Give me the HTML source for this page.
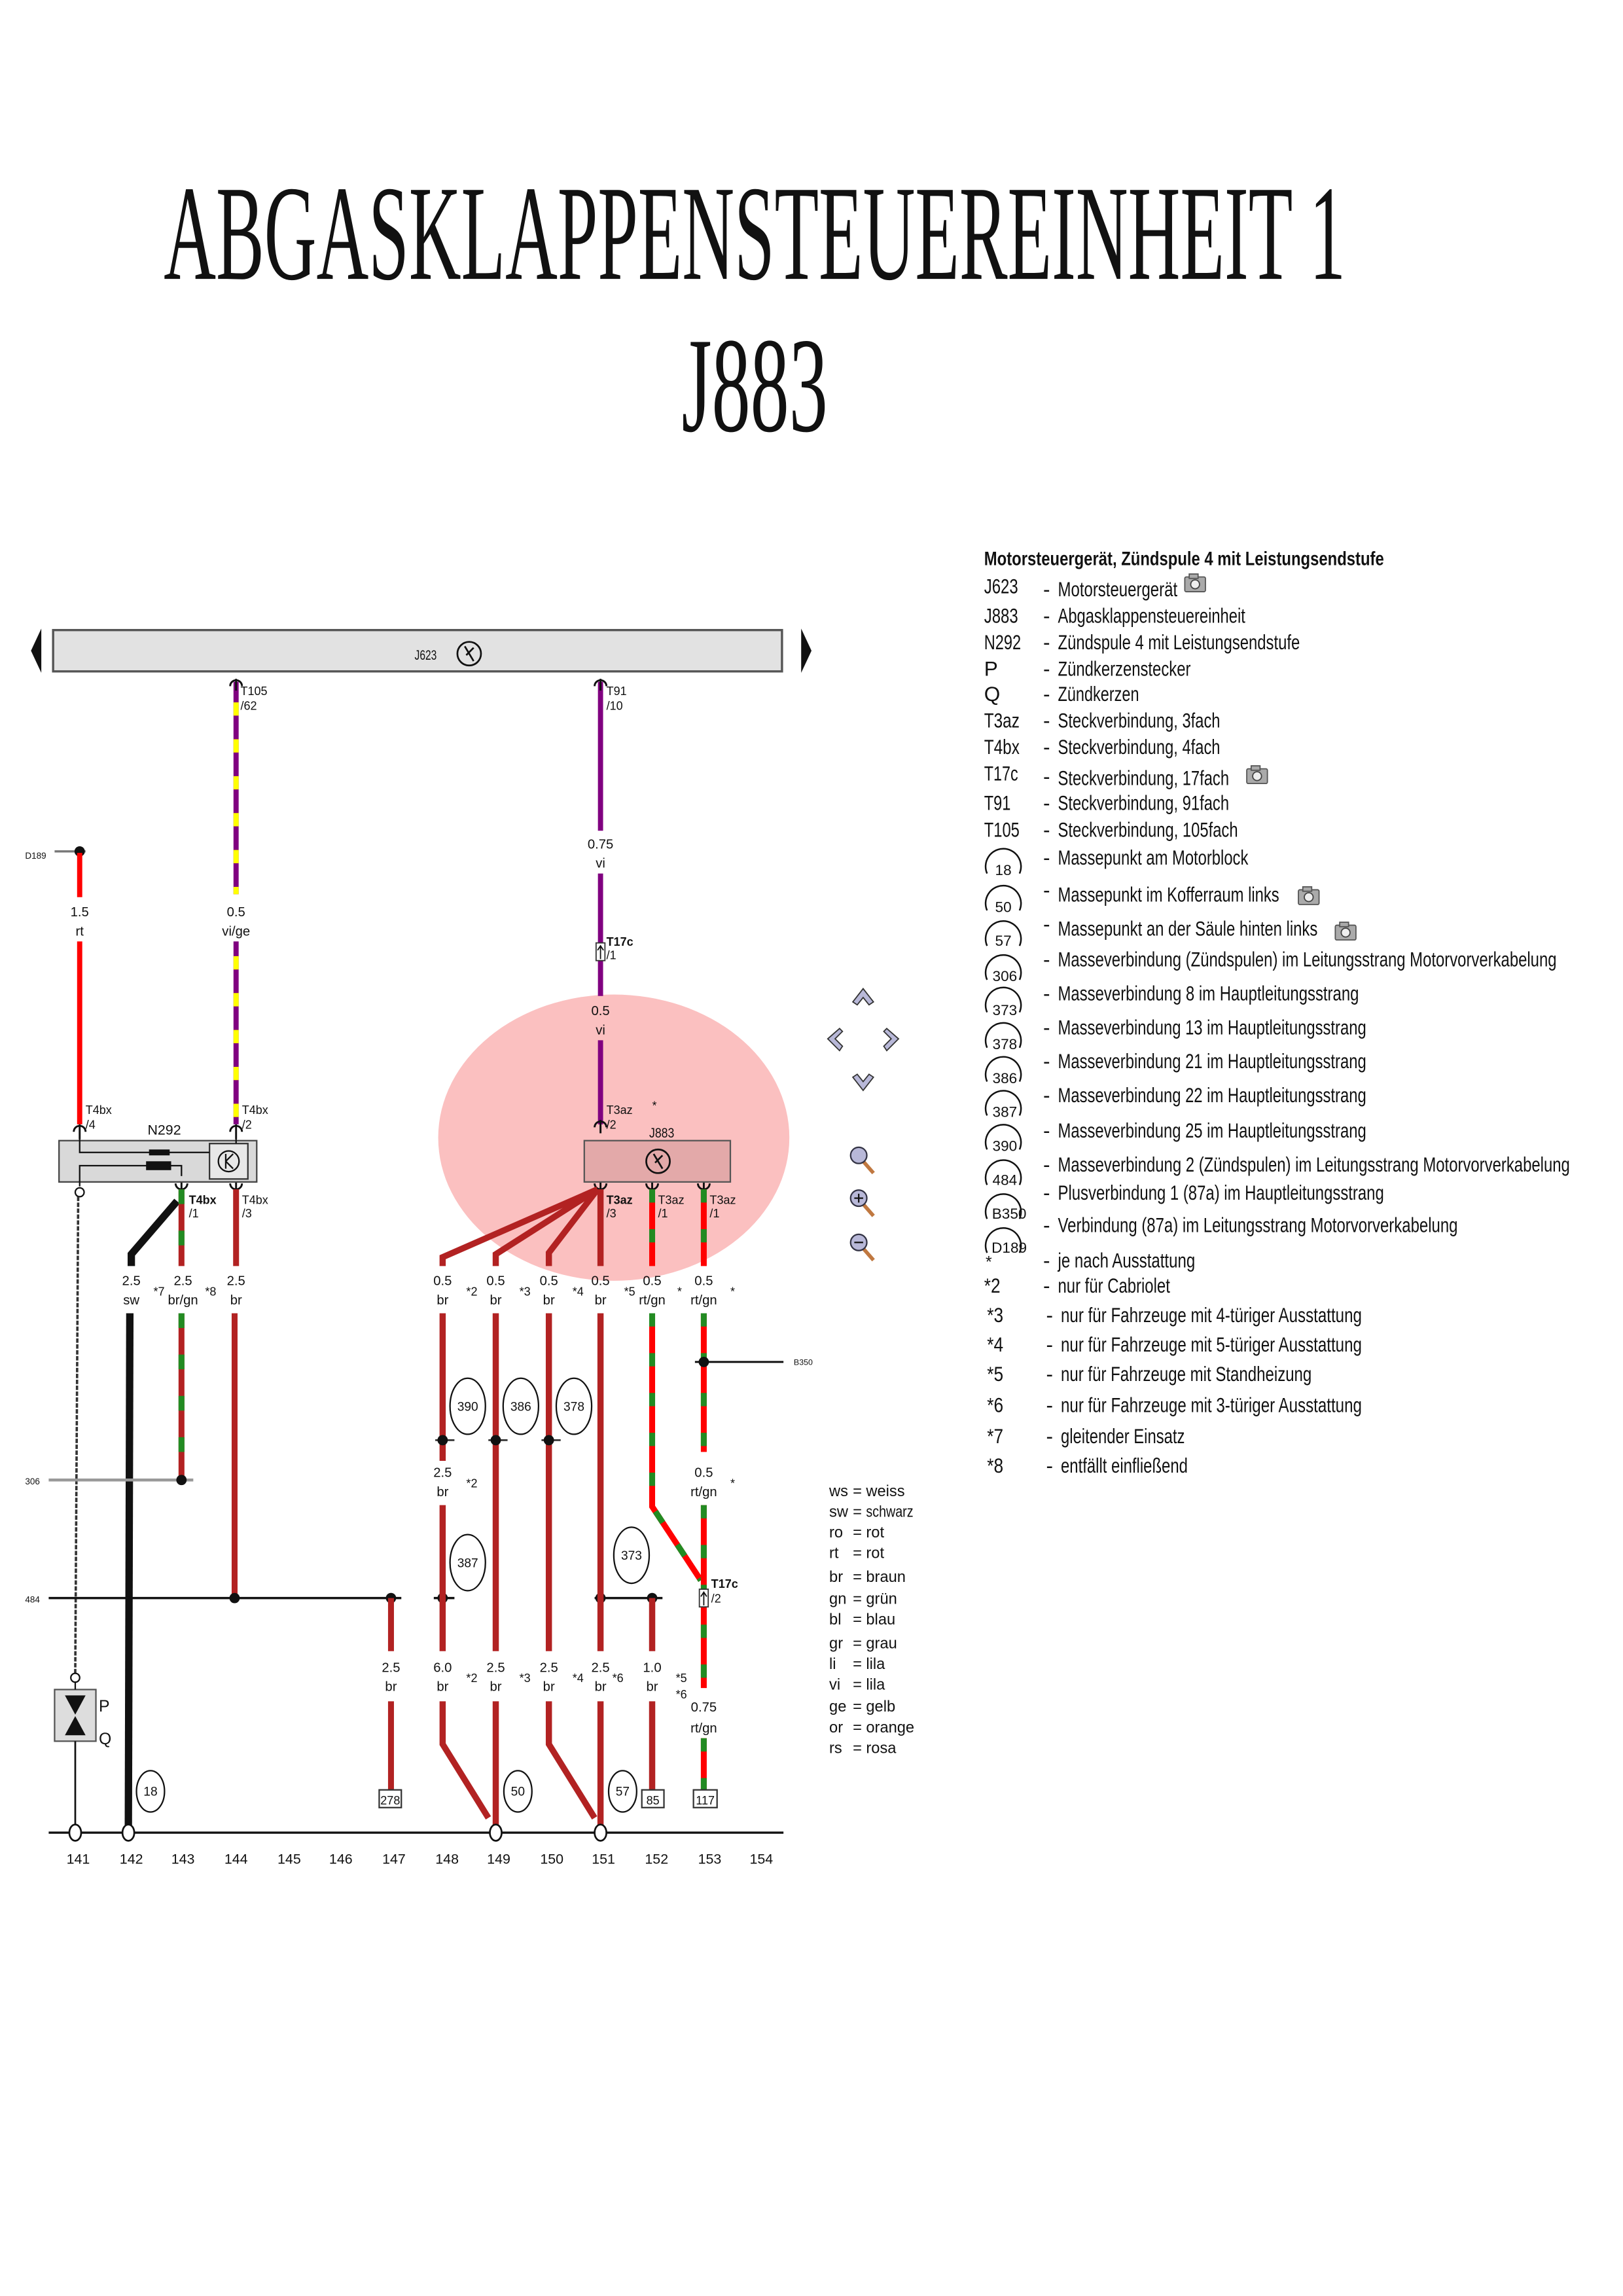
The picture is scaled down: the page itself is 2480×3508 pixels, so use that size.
<!DOCTYPE html>
<html><head><meta charset="utf-8"><style>
html,body{margin:0;padding:0;background:#fff}
svg{display:block}
text{font-family:"Liberation Sans",sans-serif;fill:#111}
.s{font-size:8px}
.m{font-size:9.5px}
.lg{font-size:14px}
.cl{font-size:11px}
.cn{font-size:9px;text-anchor:middle}
</style></head><body>
<svg width="2480" height="3508" viewBox="0 0 1100 1556" preserveAspectRatio="none" xmlns="http://www.w3.org/2000/svg">
<!-- Title -->
<text x="111" y="189" style="font-family:'Liberation Serif',serif;font-size:92px" textLength="801" lengthAdjust="spacingAndGlyphs">ABGASKLAPPENSTEUEREINHEIT 1</text>
<text x="462" y="292" style="font-family:'Liberation Serif',serif;font-size:92px" textLength="99" lengthAdjust="spacingAndGlyphs">J883</text>

<!-- pink highlight -->
<ellipse cx="416" cy="771" rx="119" ry="97" fill="#fbc0c0"/>

<!-- J623 bar -->
<polygon points="28,426 21,441 28,456" fill="#111"/>
<polygon points="543,426 550,441 543,456" fill="#111"/>
<rect x="36" y="427" width="494" height="28" fill="#e2e2e2" stroke="#555" stroke-width="1.5"/>
<text x="281" y="447" class="m" textLength="15" lengthAdjust="spacingAndGlyphs">J623</text>
<circle cx="318" cy="443" r="8" fill="none" stroke="#111" stroke-width="1.2"/>
<path d="M315,438 L321,448 M316,444 L321,439" stroke="#111" stroke-width="1.2"/>

<!-- rt -->
<line x1="37" y1="577" x2="58" y2="577" stroke="#777" stroke-width="1.5"/>
<circle cx="54" cy="577" r="3.5" fill="#111"/>
<text x="17" y="582" style="font-size:6px">D189</text>
<line x1="54" y1="578" x2="54" y2="608" stroke="#f00" stroke-width="3.5"/>
<line x1="54" y1="638" x2="54" y2="762" stroke="#f00" stroke-width="3.5"/>
<text x="54" y="621" class="cn">1.5</text><text x="54" y="634" class="cn">rt</text>

<!-- vi/ge -->
<line x1="160" y1="462" x2="160" y2="606" stroke="#800080" stroke-width="3.5"/>
<line x1="160" y1="638" x2="160" y2="762" stroke="#800080" stroke-width="3.5"/>
<line x1="160" y1="476" x2="160" y2="606" stroke="#ff0" stroke-width="3.5" stroke-dasharray="9 16"/>
<line x1="160" y1="648" x2="160" y2="762" stroke="#ff0" stroke-width="3.5" stroke-dasharray="9 16"/>
<text x="160" y="621" class="cn">0.5</text><text x="160" y="634" class="cn">vi/ge</text>
<text x="163" y="471" class="s">T105</text><text x="163" y="481" class="s">/62</text>

<!-- violet T91 -->
<line x1="407" y1="462" x2="407" y2="563" stroke="#800080" stroke-width="3.5"/>
<line x1="407" y1="592" x2="407" y2="675" stroke="#800080" stroke-width="3.5"/>
<line x1="407" y1="705" x2="407" y2="762" stroke="#800080" stroke-width="3.5"/>
<text x="407" y="575" class="cn">0.75</text><text x="407" y="588" class="cn">vi</text>
<text x="407" y="688" class="cn">0.5</text><text x="407" y="701" class="cn">vi</text>
<text x="411" y="471" class="s">T91</text><text x="411" y="481" class="s">/10</text>
<rect x="404" y="639" width="6" height="12" fill="#fff" stroke="#333" stroke-width="0.8"/>
<path d="M407,650 L407,641 M405,644 L407,641 L409,644" stroke="#111" stroke-width="0.8" fill="none"/>
<text x="411" y="641" class="s" style="font-weight:bold">T17c</text><text x="411" y="650" class="s">/1</text>

<!-- T connectors -->
<g fill="none" stroke="#111" stroke-width="1.3">
<path d="M156,465 A4,4 0 0 1 164,465 M160,460 L160,468"/>
<path d="M403,465 A4,4 0 0 1 411,465 M407,460 L407,468"/>
<path d="M50,767 A4,4 0 0 1 58,767 M54,762 L54,772"/>
<path d="M156,767 A4,4 0 0 1 164,767 M160,762 L160,772"/>
<path d="M403,764 A4,4 0 0 1 411,764 M407,759 L407,768"/>
<path d="M119,802 A4,4 0 0 0 127,802 M123,795 L123,806"/>
<path d="M156,802 A4,4 0 0 0 164,802 M160,795 L160,806"/>
<path d="M403,802 A4,4 0 0 0 411,802 M407,795 L407,806"/>
<path d="M438,802 A4,4 0 0 0 446,802 M442,795 L442,806"/>
<path d="M473,802 A4,4 0 0 0 481,802 M477,795 L477,806"/>
</g>
<text x="58" y="755" class="s">T4bx</text><text x="58" y="765" class="s">/4</text>
<text x="164" y="755" class="s">T4bx</text><text x="164" y="765" class="s">/2</text>
<text x="411" y="755" class="s">T3az</text><text x="411" y="765" class="s">/2</text>
<text x="442" y="752" class="s">*</text>
<text x="128" y="816" class="s" style="font-weight:bold">T4bx</text><text x="128" y="825" class="s">/1</text>
<text x="164" y="816" class="s">T4bx</text><text x="164" y="825" class="s">/3</text>
<text x="411" y="816" class="s" style="font-weight:bold">T3az</text><text x="411" y="825" class="s">/3</text>
<text x="446" y="816" class="s">T3az</text><text x="446" y="825" class="s">/1</text>
<text x="481" y="816" class="s">T3az</text><text x="481" y="825" class="s">/1</text>

<!-- N292 -->
<text x="100" y="769" class="m">N292</text>
<rect x="40" y="773" width="134" height="28" fill="#d9d9d9" stroke="#444" stroke-width="1"/>
<rect x="142" y="775" width="26" height="24" fill="#e8e8e8" stroke="#333" stroke-width="1"/>
<circle cx="155" cy="787" r="7" fill="none" stroke="#111" stroke-width="1"/>
<path d="M153,782 L153,792 M153,787 L158,782 M153,787 L158,792" stroke="#111" stroke-width="1" fill="none"/>
<path d="M54,772 L54,781 L142,781" stroke="#111" stroke-width="1" fill="none"/>
<path d="M54,804 L54,790 L123,790 L123,797" stroke="#111" stroke-width="1" fill="none"/>
<rect x="101" y="779" width="14" height="4" fill="#111"/>
<rect x="99" y="787" width="17" height="6" fill="#111"/>
<line x1="160" y1="772" x2="160" y2="775" stroke="#111" stroke-width="1"/>

<!-- J883 -->
<text x="440" y="771" class="m" textLength="17" lengthAdjust="spacingAndGlyphs">J883</text>
<rect x="396" y="773" width="99" height="28" fill="#e3a9a9" stroke="#555" stroke-width="1"/>
<circle cx="446" cy="787" r="8" fill="none" stroke="#111" stroke-width="1.2"/>
<path d="M443,782 L449,792 M444,788 L449,783" stroke="#111" stroke-width="1.2"/>

<!-- 141 -->
<circle cx="54" cy="808" r="3" fill="#fff" stroke="#111" stroke-width="1"/>
<line x1="53" y1="811" x2="51" y2="1134" stroke="#333" stroke-width="1.6" stroke-dasharray="3 1"/>
<circle cx="51" cy="1137" r="3" fill="#fff" stroke="#111" stroke-width="1"/>
<rect x="37" y="1145" width="28" height="35" fill="#ddd" stroke="#555" stroke-width="1"/>
<polygon points="44,1149 58,1149 51,1162" fill="#111"/>
<polygon points="44,1176 58,1176 51,1163" fill="#111"/>
<line x1="51" y1="1140" x2="51" y2="1145" stroke="#111"/><line x1="51" y1="1180" x2="51" y2="1238" stroke="#111" stroke-width="1.2"/>
<text x="67" y="1160" class="cl">P</text><text x="67" y="1182" class="cl">Q</text>

<!-- sw -->
<path d="M120,814 L89,850 L89,858" stroke="#111" stroke-width="5" fill="none"/>
<line x1="88" y1="890" x2="87" y2="1238" stroke="#111" stroke-width="5"/>
<text x="89" y="871" class="cn">2.5</text><text x="89" y="884" class="cn">sw</text>
<text x="104" y="878" class="s">*7</text>

<!-- 143 -->
<line x1="123" y1="806" x2="123" y2="858" stroke="#b22222" stroke-width="4"/>
<line x1="123" y1="890" x2="123" y2="1003" stroke="#b22222" stroke-width="4"/>
<line x1="123" y1="806" x2="123" y2="858" stroke="#228b22" stroke-width="4" stroke-dasharray="10 18"/>
<line x1="123" y1="890" x2="123" y2="1003" stroke="#228b22" stroke-width="4" stroke-dasharray="10 18"/>
<text x="124" y="871" class="cn">2.5</text><text x="124" y="884" class="cn">br/gn</text>
<text x="139" y="878" class="s">*8</text>
<line x1="33" y1="1003" x2="131" y2="1003" stroke="#999" stroke-width="2"/>
<circle cx="123" cy="1003" r="3.5" fill="#111"/>
<text x="17" y="1006" style="font-size:6px">306</text>

<!-- 144 -->
<line x1="160" y1="806" x2="160" y2="858" stroke="#b22222" stroke-width="4"/>
<line x1="159" y1="890" x2="159" y2="1083" stroke="#b22222" stroke-width="4"/>
<text x="160" y="871" class="cn">2.5</text><text x="160" y="884" class="cn">br</text>

<!-- 484 -->
<line x1="33" y1="1083" x2="272" y2="1083" stroke="#111" stroke-width="1.5"/>
<line x1="294" y1="1083" x2="308" y2="1083" stroke="#111" stroke-width="1.5"/>
<line x1="403" y1="1083" x2="449" y2="1083" stroke="#111" stroke-width="1.5"/>
<text x="17" y="1086" style="font-size:6px">484</text>
<circle cx="159" cy="1083" r="3.5" fill="#111"/>
<circle cx="265" cy="1083" r="3.5" fill="#111"/>
<circle cx="300" cy="1083" r="3.5" fill="#111"/>
<circle cx="407" cy="1083" r="3.5" fill="#111"/>
<circle cx="442" cy="1083" r="3.5" fill="#111"/>

<!-- 147 -->
<line x1="265" y1="1083" x2="265" y2="1119" stroke="#b22222" stroke-width="4"/>
<line x1="265" y1="1153" x2="265" y2="1213" stroke="#b22222" stroke-width="4"/>
<text x="265" y="1133" class="cn">2.5</text><text x="265" y="1146" class="cn">br</text>
<rect x="257" y="1213" width="15" height="12" fill="#fff" stroke="#333" stroke-width="1"/>
<text x="264.5" y="1223" class="cn" style="font-size:8px">278</text>

<!-- fan and brown -->
<g stroke="#b22222" stroke-width="4.2" fill="none">
<path d="M405,806 L300,852 L300,858"/>
<path d="M405,806 L336,850 L336,858"/>
<path d="M405,806 L372,849 L372,858"/>
<line x1="407" y1="806" x2="407" y2="858"/>
<line x1="300" y1="890" x2="300" y2="990"/>
<path d="M300,1020 L300,1119"/>
<path d="M300,1153 L300,1182 L331,1232"/>
<line x1="336" y1="890" x2="336" y2="1119"/>
<line x1="336" y1="1153" x2="336" y2="1238"/>
<line x1="372" y1="890" x2="372" y2="1119"/>
<path d="M372,1153 L372,1182 L403,1232"/>
<line x1="407" y1="890" x2="407" y2="1119"/>
<line x1="407" y1="1153" x2="407" y2="1238"/>
<line x1="442" y1="1083" x2="442" y2="1119"/>
<line x1="442" y1="1153" x2="442" y2="1213"/>
</g>
<g stroke="#333" stroke-width="1.2">
<line x1="295" y1="976" x2="308" y2="976"/><line x1="331" y1="976" x2="344" y2="976"/><line x1="367" y1="976" x2="380" y2="976"/>
</g>
<circle cx="300" cy="976" r="3.5" fill="#111"/><circle cx="336" cy="976" r="3.5" fill="#111"/><circle cx="372" cy="976" r="3.5" fill="#111"/>

<!-- rt/gn -->
<g fill="none" stroke-width="4">
<path d="M442,806 L442,858" stroke="#f00"/>
<path d="M442,890 L442,1021 L475,1071" stroke="#f00"/>
<path d="M442,806 L442,858" stroke="#228b22" stroke-dasharray="9 18"/>
<path d="M442,890 L442,1021 L475,1071" stroke="#228b22" stroke-dasharray="9 18"/>
<path d="M477,806 L477,858" stroke="#f00"/>
<path d="M477,890 L477,984" stroke="#f00"/>
<path d="M477,1020 L477,1144" stroke="#f00"/>
<path d="M477,1178 L477,1213" stroke="#f00"/>
<path d="M477,806 L477,858" stroke="#228b22" stroke-dasharray="9 18"/>
<path d="M477,890 L477,984" stroke="#228b22" stroke-dasharray="9 18"/>
<path d="M477,1020 L477,1144" stroke="#228b22" stroke-dasharray="9 18"/>
<path d="M477,1178 L477,1213" stroke="#228b22" stroke-dasharray="9 18"/>
</g>
<line x1="471" y1="923" x2="531" y2="923" stroke="#111" stroke-width="1.3"/>
<circle cx="477" cy="923" r="3.5" fill="#111"/>
<text x="538" y="925" style="font-size:5.5px">B350</text>
<rect x="474" y="1077" width="6" height="12" fill="#fff" stroke="#333" stroke-width="0.8"/>
<path d="M477,1088 L477,1079 M475,1082 L477,1079 L479,1082" stroke="#111" stroke-width="0.8" fill="none"/>
<text x="482" y="1076" class="s" style="font-weight:bold">T17c</text><text x="482" y="1086" class="s">/2</text>

<!-- labels -->
<text x="300" y="871" class="cn">0.5</text><text x="300" y="884" class="cn">br</text><text x="316" y="878" class="s">*2</text>
<text x="336" y="871" class="cn">0.5</text><text x="336" y="884" class="cn">br</text><text x="352" y="878" class="s">*3</text>
<text x="372" y="871" class="cn">0.5</text><text x="372" y="884" class="cn">br</text><text x="388" y="878" class="s">*4</text>
<text x="407" y="871" class="cn">0.5</text><text x="407" y="884" class="cn">br</text><text x="423" y="878" class="s">*5</text>
<text x="442" y="871" class="cn">0.5</text><text x="442" y="884" class="cn">rt/gn</text><text x="459" y="878" class="s">*</text>
<text x="477" y="871" class="cn">0.5</text><text x="477" y="884" class="cn">rt/gn</text><text x="495" y="878" class="s">*</text>
<text x="300" y="1001" class="cn">2.5</text><text x="300" y="1014" class="cn">br</text><text x="316" y="1008" class="s">*2</text>
<text x="477" y="1001" class="cn">0.5</text><text x="477" y="1014" class="cn">rt/gn</text><text x="495" y="1008" class="s">*</text>
<text x="300" y="1133" class="cn">6.0</text><text x="300" y="1146" class="cn">br</text><text x="316" y="1140" class="s">*2</text>
<text x="336" y="1133" class="cn">2.5</text><text x="336" y="1146" class="cn">br</text><text x="352" y="1140" class="s">*3</text>
<text x="372" y="1133" class="cn">2.5</text><text x="372" y="1146" class="cn">br</text><text x="388" y="1140" class="s">*4</text>
<text x="407" y="1133" class="cn">2.5</text><text x="407" y="1146" class="cn">br</text><text x="415" y="1140" class="s">*6</text>
<text x="442" y="1133" class="cn">1.0</text><text x="442" y="1146" class="cn">br</text><text x="458" y="1140" class="s">*5</text><text x="458" y="1151" class="s">*6</text>
<text x="477" y="1160" class="cn">0.75</text><text x="477" y="1174" class="cn">rt/gn</text>
<rect x="435" y="1213" width="15" height="12" fill="#fff" stroke="#333" stroke-width="1"/>
<text x="442.5" y="1223" class="cn" style="font-size:8px">85</text>
<rect x="470" y="1213" width="16" height="12" fill="#fff" stroke="#333" stroke-width="1"/>
<text x="478" y="1223" class="cn" style="font-size:8px">117</text>

<!-- ground circles -->
<g fill="#fff" stroke="#111" stroke-width="1">
<ellipse cx="317" cy="953" rx="12" ry="19"/><ellipse cx="353" cy="953" rx="12" ry="19"/><ellipse cx="389" cy="953" rx="12" ry="19"/>
<ellipse cx="317" cy="1059" rx="12" ry="19"/><ellipse cx="428" cy="1054" rx="12" ry="19"/>
<ellipse cx="102" cy="1214" rx="9.5" ry="14"/><ellipse cx="351" cy="1214" rx="9.5" ry="14"/><ellipse cx="422" cy="1214" rx="9.5" ry="14"/>
</g>
<g style="font-size:8.5px;text-anchor:middle">
<text x="317" y="956">390</text><text x="353" y="956">386</text><text x="389" y="956">378</text>
<text x="317" y="1062">387</text><text x="428" y="1057">373</text>
<text x="102" y="1217">18</text><text x="351" y="1217">50</text><text x="422" y="1217">57</text>
</g>

<!-- bus -->
<line x1="33" y1="1242" x2="531" y2="1242" stroke="#111" stroke-width="1.5"/>
<g fill="#fff" stroke="#111" stroke-width="1.2">
<ellipse cx="51" cy="1242" rx="4" ry="5.5"/><ellipse cx="87" cy="1242" rx="4" ry="5.5"/><ellipse cx="336" cy="1242" rx="4" ry="5.5"/><ellipse cx="407" cy="1242" rx="4" ry="5.5"/>
</g>
<g style="font-size:9.5px;text-anchor:middle">
<text x="53" y="1263">141</text><text x="89" y="1263">142</text><text x="124" y="1263">143</text><text x="160" y="1263">144</text><text x="196" y="1263">145</text><text x="231" y="1263">146</text><text x="267" y="1263">147</text><text x="303" y="1263">148</text><text x="338" y="1263">149</text><text x="374" y="1263">150</text><text x="409" y="1263">151</text><text x="445" y="1263">152</text><text x="481" y="1263">153</text><text x="516" y="1263">154</text>
</g>

<!-- nav icons -->
<g fill="#b8b8d8" stroke="#333" stroke-width="0.8">
<path d="M578,679 L585,670 L592,679 L589,681 L585,676 L581,681 Z"/>
<path d="M578,730 L585,739 L592,730 L589,728 L585,733 L581,728 Z"/>
<path d="M569,697 L561,704 L569,712 L571,709 L566,704 L571,699 Z"/>
<path d="M601,697 L609,704 L601,712 L599,709 L604,704 L599,699 Z"/>
</g>
<g>
<line x1="585" y1="787" x2="592" y2="795" stroke="#c07840" stroke-width="2.5"/>
<circle cx="582" cy="783" r="5.5" fill="#b8b8d8" stroke="#334" stroke-width="1"/>
<line x1="585" y1="816" x2="592" y2="824" stroke="#c07840" stroke-width="2.5"/>
<circle cx="582" cy="812" r="5.5" fill="#b8b8d8" stroke="#334" stroke-width="1"/>
<path d="M579,812 h6 M582,809 v6" stroke="#111" stroke-width="1"/>
<line x1="585" y1="846" x2="592" y2="854" stroke="#c07840" stroke-width="2.5"/>
<circle cx="582" cy="842" r="5.5" fill="#b8b8d8" stroke="#334" stroke-width="1"/>
<path d="M579,842 h6" stroke="#111" stroke-width="1"/>
</g>

<!-- colour legend -->
<g style="font-size:10.5px">
<text x="562" y="1014">ws</text><text x="578" y="1014">=</text><text x="587" y="1014">weiss</text>
<text x="562" y="1028">sw</text><text x="578" y="1028">=</text><text x="587" y="1028" textLength="32" lengthAdjust="spacingAndGlyphs">schwarz</text>
<text x="562" y="1042">ro</text><text x="578" y="1042">=</text><text x="587" y="1042">rot</text>
<text x="562" y="1056">rt</text><text x="578" y="1056">=</text><text x="587" y="1056">rot</text>
<text x="562" y="1072">br</text><text x="578" y="1072">=</text><text x="587" y="1072">braun</text>
<text x="562" y="1087">gn</text><text x="578" y="1087">=</text><text x="587" y="1087">grün</text>
<text x="562" y="1101">bl</text><text x="578" y="1101">=</text><text x="587" y="1101">blau</text>
<text x="562" y="1117">gr</text><text x="578" y="1117">=</text><text x="587" y="1117">grau</text>
<text x="562" y="1131">li</text><text x="578" y="1131">=</text><text x="587" y="1131">lila</text>
<text x="562" y="1145">vi</text><text x="578" y="1145">=</text><text x="587" y="1145">lila</text>
<text x="562" y="1160">ge</text><text x="578" y="1160">=</text><text x="587" y="1160">gelb</text>
<text x="562" y="1174">or</text><text x="578" y="1174">=</text><text x="587" y="1174">orange</text>
<text x="562" y="1188">rs</text><text x="578" y="1188">=</text><text x="587" y="1188">rosa</text>
</g>

<!-- component legend -->
<text x="667" y="383" style="font-size:13px;font-weight:bold" textLength="271" lengthAdjust="spacingAndGlyphs">Motorsteuergerät, Zündspule 4 mit Leistungsendstufe</text>
<g class="lg">
<text x="667" y="402" textLength="23" lengthAdjust="spacingAndGlyphs">J623</text><text x="707" y="404">-</text><text x="717" y="404" textLength="81" lengthAdjust="spacingAndGlyphs">Motorsteuergerät</text>
<text x="667" y="422" textLength="23" lengthAdjust="spacingAndGlyphs">J883</text><text x="707" y="422">-</text><text x="717" y="422" textLength="127" lengthAdjust="spacingAndGlyphs">Abgasklappensteuereinheit</text>
<text x="667" y="440" textLength="25" lengthAdjust="spacingAndGlyphs">N292</text><text x="707" y="440">-</text><text x="717" y="440" textLength="164" lengthAdjust="spacingAndGlyphs">Zündspule 4 mit Leistungsendstufe</text>
<text x="667" y="458">P</text><text x="707" y="458">-</text><text x="717" y="458" textLength="90" lengthAdjust="spacingAndGlyphs">Zündkerzenstecker</text>
<text x="667" y="475">Q</text><text x="707" y="475">-</text><text x="717" y="475" textLength="55" lengthAdjust="spacingAndGlyphs">Zündkerzen</text>
<text x="667" y="493" textLength="24" lengthAdjust="spacingAndGlyphs">T3az</text><text x="707" y="493">-</text><text x="717" y="493" textLength="110" lengthAdjust="spacingAndGlyphs">Steckverbindung, 3fach</text>
<text x="667" y="511" textLength="24" lengthAdjust="spacingAndGlyphs">T4bx</text><text x="707" y="511">-</text><text x="717" y="511" textLength="110" lengthAdjust="spacingAndGlyphs">Steckverbindung, 4fach</text>
<text x="667" y="529" textLength="23" lengthAdjust="spacingAndGlyphs">T17c</text><text x="707" y="531">-</text><text x="717" y="532" textLength="116" lengthAdjust="spacingAndGlyphs">Steckverbindung, 17fach</text>
<text x="667" y="549" textLength="18" lengthAdjust="spacingAndGlyphs">T91</text><text x="707" y="549">-</text><text x="717" y="549" textLength="116" lengthAdjust="spacingAndGlyphs">Steckverbindung, 91fach</text>
<text x="667" y="567" textLength="24" lengthAdjust="spacingAndGlyphs">T105</text><text x="707" y="567">-</text><text x="717" y="567" textLength="122" lengthAdjust="spacingAndGlyphs">Steckverbindung, 105fach</text>
<text x="707" y="586">-</text><text x="717" y="586" textLength="129" lengthAdjust="spacingAndGlyphs">Massepunkt am Motorblock</text>
<text x="707" y="608">-</text><text x="717" y="611" textLength="150" lengthAdjust="spacingAndGlyphs">Massepunkt im Kofferraum links</text>
<text x="707" y="631">-</text><text x="717" y="634" textLength="176" lengthAdjust="spacingAndGlyphs">Massepunkt an der Säule hinten links</text>
<text x="707" y="655">-</text><text x="717" y="655" textLength="338" lengthAdjust="spacingAndGlyphs">Masseverbindung (Zündspulen) im Leitungsstrang Motorvorverkabelung</text>
<text x="707" y="678">-</text><text x="717" y="678" textLength="204" lengthAdjust="spacingAndGlyphs">Masseverbindung 8 im Hauptleitungsstrang</text>
<text x="707" y="701">-</text><text x="717" y="701" textLength="209" lengthAdjust="spacingAndGlyphs">Masseverbindung 13 im Hauptleitungsstrang</text>
<text x="707" y="724">-</text><text x="717" y="724" textLength="209" lengthAdjust="spacingAndGlyphs">Masseverbindung 21 im Hauptleitungsstrang</text>
<text x="707" y="747">-</text><text x="717" y="747" textLength="209" lengthAdjust="spacingAndGlyphs">Masseverbindung 22 im Hauptleitungsstrang</text>
<text x="707" y="771">-</text><text x="717" y="771" textLength="209" lengthAdjust="spacingAndGlyphs">Masseverbindung 25 im Hauptleitungsstrang</text>
<text x="707" y="794">-</text><text x="717" y="794" textLength="347" lengthAdjust="spacingAndGlyphs">Masseverbindung 2 (Zündspulen) im Leitungsstrang Motorvorverkabelung</text>
<text x="707" y="813">-</text><text x="717" y="813" textLength="221" lengthAdjust="spacingAndGlyphs">Plusverbindung 1 (87a) im Hauptleitungsstrang</text>
<text x="707" y="835">-</text><text x="717" y="835" textLength="271" lengthAdjust="spacingAndGlyphs">Verbindung (87a) im Leitungsstrang Motorvorverkabelung</text>
<text x="668" y="859" style="font-size:11px">*</text><text x="707" y="859">-</text><text x="717" y="859" textLength="93" lengthAdjust="spacingAndGlyphs">je nach Ausstattung</text>
<text x="667" y="876" textLength="11" lengthAdjust="spacingAndGlyphs">*2</text><text x="707" y="876">-</text><text x="717" y="876" textLength="76" lengthAdjust="spacingAndGlyphs">nur für Cabriolet</text>
<text x="669" y="896" textLength="11" lengthAdjust="spacingAndGlyphs">*3</text><text x="709" y="896">-</text><text x="719" y="896" textLength="204" lengthAdjust="spacingAndGlyphs">nur für Fahrzeuge mit 4-türiger Ausstattung</text>
<text x="669" y="916" textLength="11" lengthAdjust="spacingAndGlyphs">*4</text><text x="709" y="916">-</text><text x="719" y="916" textLength="204" lengthAdjust="spacingAndGlyphs">nur für Fahrzeuge mit 5-türiger Ausstattung</text>
<text x="669" y="936" textLength="11" lengthAdjust="spacingAndGlyphs">*5</text><text x="709" y="936">-</text><text x="719" y="936" textLength="170" lengthAdjust="spacingAndGlyphs">nur für Fahrzeuge mit Standheizung</text>
<text x="669" y="957" textLength="11" lengthAdjust="spacingAndGlyphs">*6</text><text x="709" y="957">-</text><text x="719" y="957" textLength="204" lengthAdjust="spacingAndGlyphs">nur für Fahrzeuge mit 3-türiger Ausstattung</text>
<text x="669" y="978" textLength="11" lengthAdjust="spacingAndGlyphs">*7</text><text x="709" y="978">-</text><text x="719" y="978" textLength="84" lengthAdjust="spacingAndGlyphs">gleitender Einsatz</text>
<text x="669" y="998" textLength="11" lengthAdjust="spacingAndGlyphs">*8</text><text x="709" y="998">-</text><text x="719" y="998" textLength="86" lengthAdjust="spacingAndGlyphs">entfällt einfließend</text>
</g>
<g fill="none" stroke="#111" stroke-width="1.1">
<path d="M669,592 A12,12 0 1 1 691,592"/>
<path d="M669,617 A12,12 0 1 1 691,617"/>
<path d="M669,641 A12,12 0 1 1 691,641"/>
<path d="M669,664 A12,12 0 1 1 691,664"/>
<path d="M669,686 A12,12 0 1 1 691,686"/>
<path d="M669,710 A12,12 0 1 1 691,710"/>
<path d="M669,733 A12,12 0 1 1 691,733"/>
<path d="M669,756 A12,12 0 1 1 691,756"/>
<path d="M669,779 A12,12 0 1 1 691,779"/>
<path d="M669,803 A12,12 0 1 1 691,803"/>
<path d="M669,826 A12,12 0 1 1 691,826"/>
<path d="M669,849 A12,12 0 1 1 691,849"/>
</g>
<g style="font-size:10px;text-anchor:middle">
<text x="680" y="593">18</text><text x="680" y="618">50</text><text x="680" y="641">57</text><text x="681" y="665">306</text><text x="681" y="688">373</text><text x="681" y="711">378</text><text x="681" y="734">386</text><text x="681" y="757">387</text><text x="681" y="780">390</text><text x="681" y="803">484</text><text x="684" y="826">B350</text><text x="684" y="849">D189</text>
</g>
<g fill="#aaa" stroke="#555" stroke-width="0.8">
<rect x="803" y="391" width="14" height="10" rx="1"/><rect x="806" y="389" width="6" height="3"/>
<rect x="845" y="521" width="14" height="10" rx="1"/><rect x="848" y="519" width="6" height="3"/>
<rect x="880" y="603" width="14" height="10" rx="1"/><rect x="883" y="601" width="6" height="3"/>
<rect x="905" y="627" width="14" height="10" rx="1"/><rect x="908" y="625" width="6" height="3"/>
</g>
<g fill="#eee" stroke="#444" stroke-width="0.8">
<circle cx="810" cy="396" r="3"/><circle cx="852" cy="526" r="3"/><circle cx="887" cy="608" r="3"/><circle cx="912" cy="632" r="3"/>
</g>
</svg>
</body></html>
